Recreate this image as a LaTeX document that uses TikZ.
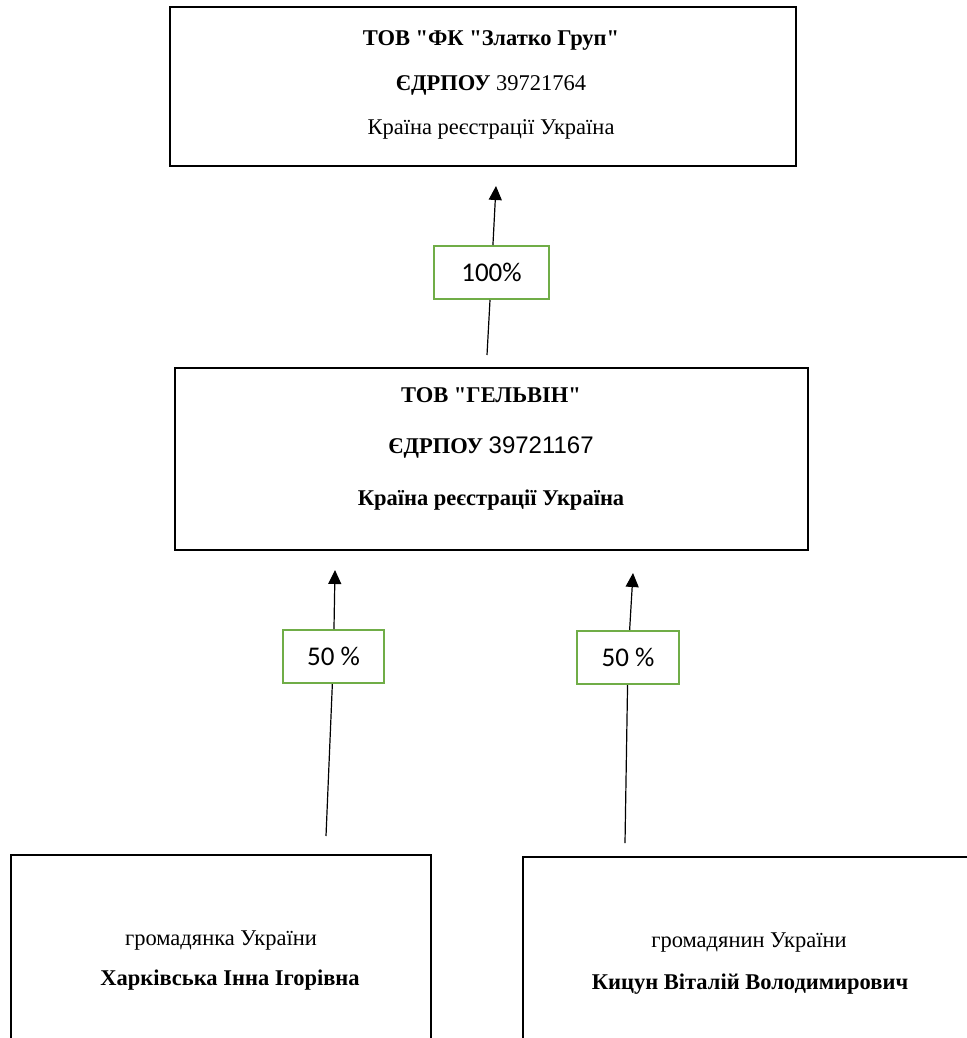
\documentclass[tikz,border=0pt]{standalone}
\usepackage{fontspec}
\setmainfont{Liberation Serif}[Ligatures=TeXOff]
\newfontfamily\arialf{Liberation Sans}
\newfontfamily\calib{Carlito}
\usetikzlibrary{arrows.meta}
\definecolor{lgreen}{HTML}{70AD47}
\tikzset{
  entity/.style={draw=black, line width=1.5pt, fill=white},
  pct/.style={draw=lgreen, line width=2pt, fill=white, inner sep=0pt, font=\calib\fontsize{27}{30}\selectfont},
  txt/.style={font=\fontsize{22.5}{26}\selectfont, inner sep=0pt, anchor=base},
  link/.style={line width=1.2pt},
  linkarr/.style={line width=1.2pt, -{Triangle[length=14pt,width=13pt]}}
}
\begin{document}
\begin{tikzpicture}[x=1pt,y=-1pt]
\useasboundingbox (0,0) rectangle (966,1038);
% boxes
\draw[entity] (170,7) rectangle (796,166);
\node[txt] (t1) at (491,46) {\textbf{ТОВ "ФК "Златко Груп"}};
\node[txt] (t2) at (491,91) {\textbf{ЄДРПОУ} 39721764};
\node[txt] (t3) at (491,135) {Країна реєстрації Україна};

\draw[entity] (175,368) rectangle (808,550);
\node[txt] (m1) at (491,402) {\textbf{ТОВ "ГЕЛЬВІН"}};
\node[txt] (m2) at (491,453) {\textbf{ЄДРПОУ} {\arialf\fontsize{24}{28}\selectfont 39721167}};
\node[txt] (m3) at (491,505) {\textbf{Країна реєстрації Україна}};

\draw[entity] (11,855) rectangle (431,1045);
\node[txt] (l1) at (221,945) {громадянка України};
\node[txt] (l2) at (230,985) {\textbf{Харківська Інна Ігорівна}};

\draw[entity] (523,857) rectangle (970,1045);
\node[txt] (r1) at (749,947) {громадянин України};
\node[txt] (r2) at (750,989) {\textbf{Кицун Віталій Володимирович}};

% connectors
\coordinate (s1) at (487,355);
\coordinate (e1) at (496,186);
\node[pct, minimum width=115pt, minimum height=53pt] (p1) at (491.5,272.5) {100\%};
\draw[link] (s1) -- (p1);
\draw[linkarr] (p1) -- (e1);

\coordinate (s2) at (326,836);
\coordinate (e2) at (335,570);
\node[pct, minimum width=101pt, minimum height=53pt] (p2) at (333.5,656.5) {50 \%};
\draw[link] (s2) -- (p2);
\draw[linkarr] (p2) -- (e2);

\coordinate (s3) at (625,843);
\coordinate (e3) at (633,573);
\node[pct, minimum width=102pt, minimum height=53pt] (p3) at (628,657.5) {50 \%};
\draw[link] (s3) -- (p3);
\draw[linkarr] (p3) -- (e3);
\end{tikzpicture}
\end{document}
